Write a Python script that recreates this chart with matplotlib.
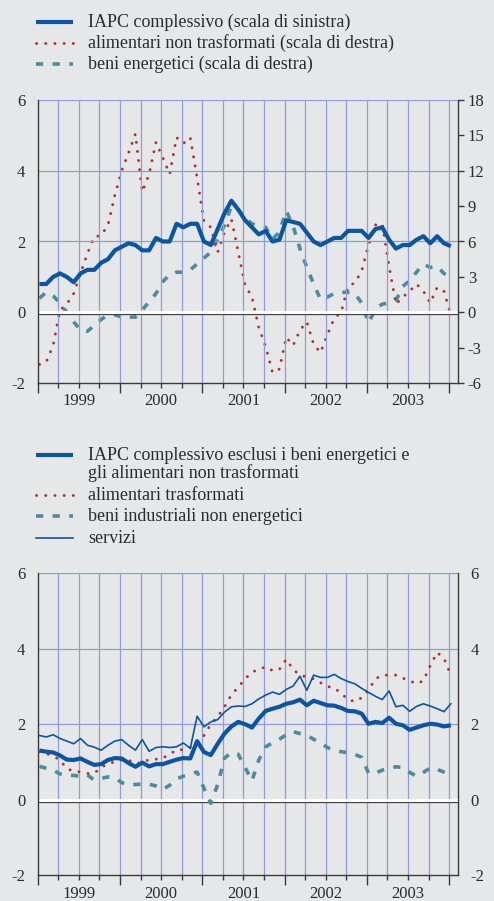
import numpy as np
import matplotlib
matplotlib.use('Agg')
import matplotlib.pyplot as plt
from matplotlib.lines import Line2D
import matplotlib.transforms as mtransforms

plt.rcParams['font.family'] = ['Liberation Serif', 'DejaVu Serif']
plt.rcParams['axes.unicode_minus'] = False

# Dati mensili, gennaio 1999 - gennaio 2004
mesi = np.arange(61) + 0.25
anni = ['1999', '2000', '2001', '2002', '2003']

# Grafico superiore
iapc = [0.8, 0.8, 1.0, 1.1, 1.0, 0.85, 1.1, 1.2, 1.2, 1.4, 1.5, 1.75,
        1.85, 1.95, 1.9, 1.75, 1.75, 2.1, 2.0, 2.0, 2.5, 2.4, 2.5, 2.5,
        2.0, 1.9, 2.35, 2.8, 3.15, 2.9, 2.6, 2.4, 2.2, 2.3, 2.0, 2.05,
        2.6, 2.55, 2.5, 2.25, 2.0, 1.9, 2.0, 2.1, 2.1, 2.3, 2.3, 2.3,
        2.1, 2.35, 2.4, 2.05, 1.8, 1.9, 1.9, 2.05, 2.15, 1.95, 2.15, 1.95,
        1.87]
alim_non_trasf = [-4.4, -4.2, -2.8, 0.2, 0.7, 1.6, 3.3, 5.0, 6.4, 6.5, 7.4, 9.9,
                  12.0, 13.5, 15.1, 10.2, 11.7, 14.4, 13.1, 11.7, 14.8, 14.3, 14.8, 11.4,
                  7.7, 7.2, 5.1, 6.8, 7.9, 5.1, 2.3, 1.3, -1.3, -2.9, -5.1, -4.8,
                  -2.1, -2.8, -1.5, -0.8, -2.7, -3.4, -1.9, -0.5, 0.0, 2.2, 2.5, 3.5,
                  5.7, 7.4, 7.5, 3.9, 0.7, 1.3, 1.8, 2.4, 1.8, 0.8, 2.1, 1.8,
                  -0.2]
beni_energ = [1.2, 1.7, 1.4, 0.8, 0.0, -0.8, -1.5, -1.6, -1.1, -0.6, -0.2, -0.2,
              -0.4, -0.4, -0.4, 0.2, 0.9, 1.6, 2.6, 3.2, 3.4, 3.4, 3.6, 4.1,
              4.6, 5.1, 6.2, 7.4, 9.0, 8.7, 8.0, 7.5, 7.3, 7.2, 6.2, 6.8,
              8.6, 7.3, 5.4, 3.8, 2.4, 1.1, 1.3, 1.6, 1.7, 1.7, 1.6, 0.8,
              -0.9, 0.3, 0.7, 0.8, 1.0, 2.2, 2.7, 3.4, 4.1, 3.8, 3.9, 3.3,
              2.9]

# Grafico inferiore
iapc_core = [1.3, 1.27, 1.25, 1.17, 1.06, 1.05, 1.09, 1.0, 0.92, 0.94, 1.05, 1.1,
             1.09, 0.97, 0.87, 0.98, 0.88, 0.94, 0.94, 1.0, 1.06, 1.1, 1.09, 1.55,
             1.26, 1.18, 1.48, 1.75, 1.94, 2.06, 2.0, 1.91, 2.15, 2.35, 2.41, 2.46,
             2.54, 2.58, 2.65, 2.5, 2.62, 2.56, 2.5, 2.49, 2.43, 2.35, 2.34, 2.28,
             2.01, 2.06, 2.03, 2.17, 2.01, 1.97, 1.85, 1.91, 1.97, 2.01, 1.99, 1.94,
             1.97]
alim_trasf = [1.27, 1.22, 1.15, 1.05, 0.82, 0.75, 0.73, 0.69, 0.7, 0.85, 0.95, 1.0,
              1.05, 1.05, 0.95, 0.98, 1.06, 1.07, 1.1, 1.2, 1.32, 1.32, 1.38, 1.5,
              1.7, 2.0, 2.2, 2.46, 2.78, 2.98, 3.2, 3.38, 3.45, 3.52, 3.42, 3.45,
              3.72, 3.45, 3.3, 3.25, 3.2, 3.1, 3.0, 2.96, 2.82, 2.65, 2.6, 2.7,
              2.9, 3.2, 3.3, 3.3, 3.3, 3.22, 3.15, 3.07, 3.15, 3.55, 3.9, 3.75,
              3.3]
beni_ind = [0.88, 0.83, 0.78, 0.68, 0.64, 0.64, 0.62, 0.65, 0.52, 0.56, 0.6, 0.58,
            0.45, 0.38, 0.4, 0.41, 0.41, 0.36, 0.27, 0.38, 0.55, 0.62, 0.68, 0.73,
            0.3, -0.1, 0.4, 1.1, 1.25, 1.2, 0.85, 0.5, 1.05, 1.4, 1.5, 1.6,
            1.72, 1.8, 1.75, 1.7, 1.6, 1.5, 1.38, 1.3, 1.27, 1.24, 1.2, 1.12,
            0.7, 0.7, 0.78, 0.82, 0.87, 0.85, 0.72, 0.62, 0.72, 0.84, 0.8, 0.73,
            0.66]
servizi = [1.70, 1.66, 1.72, 1.62, 1.55, 1.48, 1.62, 1.44, 1.39, 1.31, 1.44, 1.55,
           1.59, 1.44, 1.31, 1.59, 1.28, 1.38, 1.40, 1.38, 1.40, 1.5, 1.36, 2.21,
           1.93, 2.06, 2.12, 2.32, 2.46, 2.48, 2.47, 2.54, 2.67, 2.77, 2.85, 2.79,
           2.92, 3.01, 3.27, 2.9, 3.3, 3.24, 3.24, 3.32, 3.21, 3.13, 3.07, 2.95,
           2.84, 2.74, 2.65, 2.88, 2.46, 2.5, 2.34, 2.47, 2.54, 2.48, 2.41, 2.33,
           2.54]

# Colori
sfondo = '#e6e7e9'
griglia = '#8f9cd8'
blu = '#0b56a4'
rosso = '#b3302b'
verde = '#4b8d9c'
scuro = '#3a3a3a'
testo = '#2b2b2b'

stile_blu = dict(color=blu, lw=3.0, solid_capstyle='butt')
stile_blu_sottile = dict(color=blu, lw=1.2)
stile_rosso = dict(color=rosso, lw=2.1, linestyle=(0, (0.05, 3.1)), dash_capstyle='round')
stile_verde = dict(color=verde, lw=2.6, linestyle=(0, (2.0, 2.6)), dash_capstyle='butt')

W, H = 494, 901
fig = plt.figure(figsize=(W / 100, H / 100), dpi=100, facecolor=sfondo)


def prepara(ax):
    ax.set_facecolor(sfondo)
    ax.set_xlim(0, 61.3)
    ax.set_ylim(-2, 6)
    for y in [2, 4, 6]:
        ax.axhline(y, color=griglia, lw=0.9, zorder=1)
    for x in range(3, 61, 3):
        ax.axvline(x, color=griglia, lw=0.9, zorder=1)
    # linea dello zero bianca con ombra
    ombra = ax.get_yaxis_transform() + mtransforms.ScaledTranslation(0, -1.4 / 72, fig.dpi_scale_trans)
    ax.plot([0, 1], [0, 0], transform=ombra, color=scuro, lw=0.9, zorder=2)
    ax.axhline(0, color='white', lw=2.2, zorder=2)
    ax.spines['top'].set_visible(False)
    for s in ['left', 'bottom', 'right']:
        ax.spines[s].set_color(scuro)
        ax.spines[s].set_linewidth(1.0)
    ax.set_yticks([-2, 0, 2, 4, 6])
    ax.tick_params(axis='y', length=0, pad=9, labelsize=12, labelcolor=testo)
    ax.set_xticks(range(0, 61, 12))
    ax.set_xticklabels([])
    ax.set_xticks(range(3, 61, 3), minor=True)
    ax.tick_params(axis='x', which='major', length=7, width=1, color=scuro, direction='out')
    ax.tick_params(axis='x', which='minor', length=3.5, width=1, color=scuro, direction='out')
    for k, a in enumerate(anni):
        ax.text(6 + 12 * k, -0.062, a, transform=ax.get_xaxis_transform(),
                ha='center', va='center', fontsize=12, color=testo)


# ---- grafico superiore
ax1 = fig.add_axes([37.7 / W, 1 - 383.3 / H, 420.3 / W, 283.6 / H])
prepara(ax1)
ax1.plot(mesi, iapc, zorder=5, **stile_blu)
ax1b = ax1.twinx()
ax1b.set_ylim(-6, 18)
ax1b.set_yticks(range(-6, 19, 3))
ax1b.tick_params(axis='y', length=4, width=1, color=scuro, pad=3, labelsize=12, labelcolor=testo)
for s in ax1b.spines.values():
    s.set_visible(False)
ax1b.plot(mesi, beni_energ, zorder=3, **stile_verde)
ax1b.plot(mesi, alim_non_trasf, zorder=4, **stile_rosso)
ax1.set_zorder(ax1b.get_zorder() + 1)
ax1.patch.set_visible(False)

# ---- grafico inferiore
ax2 = fig.add_axes([37.7 / W, 1 - 875 / H, 420.3 / W, 301.7 / H])
prepara(ax2)
ax2.plot(mesi, beni_ind, zorder=3, **stile_verde)
ax2.plot(mesi, alim_trasf, zorder=4, **stile_rosso)
ax2.plot(mesi, servizi, zorder=5, **stile_blu_sottile)
ax2.plot(mesi, iapc_core, zorder=6, **stile_blu)
ax2b = ax2.twinx()
ax2b.set_ylim(-2, 6)
ax2b.set_yticks([-2, 0, 2, 4, 6])
ax2b.tick_params(axis='y', length=0, pad=9, labelsize=12, labelcolor=testo)
for s in ax2b.spines.values():
    s.set_visible(False)


# ---- legende
def voce(y_px, stile, righe):
    y = 1 - y_px / H
    fig.add_artist(Line2D([36 / W, 73 / W], [y, y], transform=fig.transFigure, **stile))
    for k, r in enumerate(righe):
        fig.text(88 / W, 1 - (y_px + 4.8 + 18.3 * k) / H, r, ha='left', va='baseline',
                 fontsize=13, color=testo)


voce(22, stile_blu, ['IAPC complessivo (scala di sinistra)'])
voce(43.3, stile_rosso, ['alimentari non trasformati (scala di destra)'])
voce(64, stile_verde, ['beni energetici (scala di destra)'])

voce(455, stile_blu, ['IAPC complessivo esclusi i beni energetici e',
                      'gli alimentari non trasformati'])
voce(495, stile_rosso, ['alimentari trasformati'])
voce(516, stile_verde, ['beni industriali non energetici'])
voce(538, stile_blu_sottile, ['servizi'])

fig.savefig('out.png', dpi=100, facecolor=sfondo)
